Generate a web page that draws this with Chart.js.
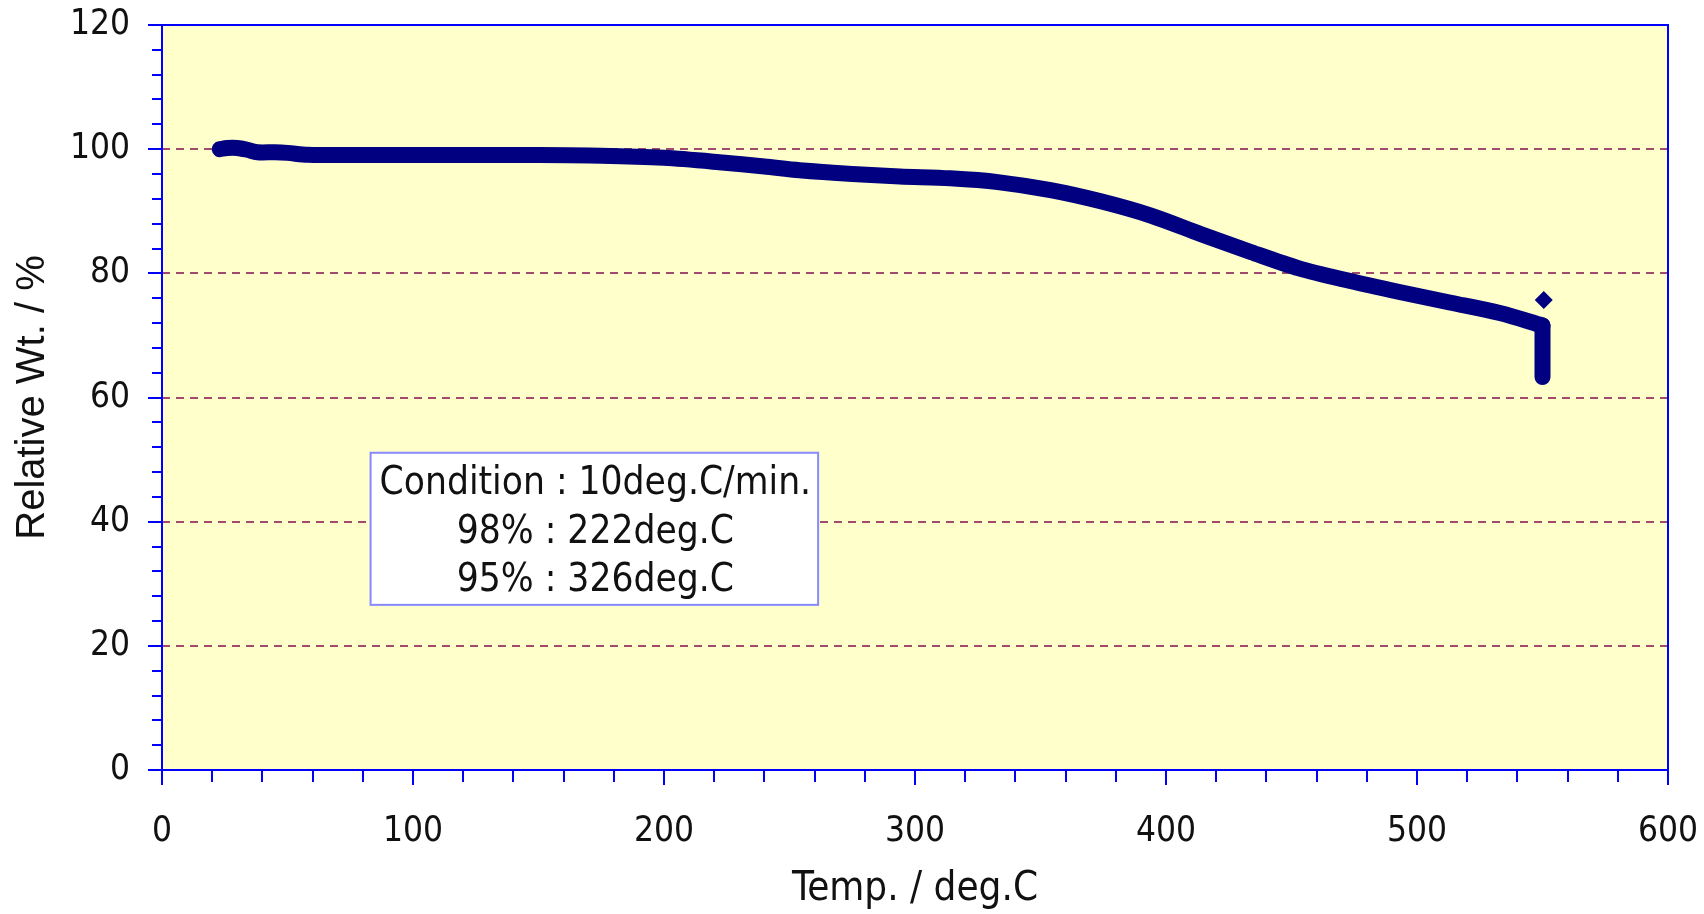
<!DOCTYPE html>
<html>
<head>
<meta charset="utf-8">
<script src="https://cdn.jsdelivr.net/npm/chart.js@4.4.0/dist/chart.umd.min.js"></script>
<style>
  html, body { margin: 0; padding: 0; background: #ffffff; }
  #wrap { width: 1704px; height: 914px; position: relative; }
  canvas { display: block; }
</style>
</head>
<body>
<div id="wrap"><canvas id="c" width="1704" height="914"></canvas></div>
<script>
// ---- data ----
const temps   = [23, 26, 30, 34, 38, 45, 50, 58, 80, 100, 120, 150, 175, 200, 222, 240, 254, 275, 294, 314, 333, 354, 374, 394, 414, 434, 453, 473, 493, 513, 533, 550, 550];
const weights = [100.0, 100.2, 100.2, 99.9, 99.5, 99.5, 99.4, 99.1, 99.05, 99.05, 99.05, 99.05, 98.95, 98.6, 97.9, 97.2, 96.6, 96.0, 95.6, 95.3, 94.7, 93.4, 91.6, 89.3, 86.3, 83.4, 80.8, 78.8, 77.0, 75.3, 73.6, 71.6, 63.3];
const outlierTemp   = [550.5];
const outlierWeight = [75.7];
const xTicks = [0, 100, 200, 300, 400, 500, 600];
const yTicks = [0, 20, 40, 60, 80, 100, 120];
const noteLines = ["Condition : 10deg.C/min.", "98% : 222deg.C", "95% : 326deg.C"];
const xTitle = "Temp. / deg.C";
const yTitle = "Relative Wt. / %";

const FONT = '"DejaVu Sans Condensed", "DejaVu Sans", sans-serif';
const NAVY = '#000080';
const BLUE = '#0000ff';

const allPts = temps.map((t, i) => ({ x: t, y: weights[i] }));
const curvePts = allPts.slice(0, -1);   // heating ramp
const dropPts = allPts.slice(-2);       // isothermal drop at the end
const outPts = outlierTemp.map((t, i) => ({ x: t, y: outlierWeight[i] }));

const framePlugin = {
  id: 'frame',
  beforeDraw(chart) {
    const { ctx, chartArea: a } = chart;
    ctx.save();
    ctx.fillStyle = '#ffffcc';
    ctx.fillRect(a.left, a.top, a.right - a.left, a.bottom - a.top);
    ctx.restore();
  },
  afterDatasetsDraw(chart) {
    const { ctx, chartArea: a, scales } = chart;
    const xs = scales.x, ys = scales.y;
    ctx.save();
    ctx.strokeStyle = BLUE;
    ctx.lineWidth = 2;
    ctx.strokeRect(a.left, a.top, a.right - a.left, a.bottom - a.top);
    ctx.beginPath();
    for (let v = ys.min; v <= ys.max + 1e-9; v += 4) {
      const y = Math.round(ys.getPixelForValue(v));
      const major = Math.abs(v % 20) < 1e-9;
      ctx.moveTo(a.left - (major ? 14 : 10), y);
      ctx.lineTo(a.left, y);
    }
    for (let v = xs.min; v <= xs.max + 1e-9; v += 20) {
      const x = Math.round(xs.getPixelForValue(v));
      const major = Math.abs(v % 100) < 1e-9;
      ctx.moveTo(x, a.bottom);
      ctx.lineTo(x, a.bottom + (major ? 15 : 12));
    }
    ctx.stroke();

    // note box (positioned relative to the axes)
    const bx1 = xs.getPixelForValue(83.1), bx2 = xs.getPixelForValue(261.4);
    const by1 = ys.getPixelForValue(51.1), by2 = ys.getPixelForValue(26.6);
    ctx.fillStyle = '#ffffff';
    ctx.fillRect(bx1, by1, bx2 - bx1, by2 - by1);
    ctx.strokeStyle = '#8888ff';
    ctx.lineWidth = 2;
    ctx.strokeRect(bx1, by1, bx2 - bx1, by2 - by1);
    ctx.fillStyle = '#111111';
    ctx.font = '38.5px ' + FONT;
    ctx.textAlign = 'center';
    ctx.textBaseline = 'middle';
    const cx = (bx1 + bx2) / 2 + 1;
    const cy = (by1 + by2) / 2 + 4;
    noteLines.forEach((s, i) => {
      ctx.fillText(s, cx, cy + (i - 1) * 48.5);
    });
    ctx.restore();
  }
};

const lineStyle = {
  showLine: true,
  borderColor: NAVY,
  backgroundColor: NAVY,
  borderWidth: 16,
  borderJoinStyle: 'round',
  borderCapStyle: 'round',
  pointRadius: 0
};

new Chart(document.getElementById('c'), {
  type: 'scatter',
  data: {
    datasets: [
      Object.assign({ data: curvePts, tension: 0.3 }, lineStyle),
      Object.assign({ data: dropPts, tension: 0 }, lineStyle),
      {
        data: outPts,
        showLine: false,
        pointStyle: 'rectRot',
        pointRadius: 9,
        backgroundColor: NAVY,
        borderColor: NAVY,
        borderWidth: 0
      }
    ]
  },
  options: {
    responsive: false,
    animation: false,
    devicePixelRatio: 1,
    layout: { padding: { top: 25, right: 36, bottom: 0, left: 0 } },
    plugins: { legend: { display: false }, tooltip: { enabled: false } },
    scales: {
      x: {
        type: 'linear',
        min: 0, max: 600,
        afterBuildTicks(scale) { scale.ticks = xTicks.map(v => ({ value: v })); },
        afterFit(scale) { scale.height = 144; scale.paddingLeft = 0; scale.paddingRight = 0; },
        grid: { display: false, drawTicks: false },
        border: { display: false },
        ticks: {
          padding: 41,
          color: '#111111',
          font: { family: FONT, size: 35 },
          maxRotation: 0
        },
        title: {
          display: true,
          text: xTitle,
          color: '#111111',
          font: { family: FONT, size: 40 },
          padding: { top: 0, bottom: 0 }
        }
      },
      y: {
        type: 'linear',
        min: 0, max: 120,
        afterBuildTicks(scale) { scale.ticks = yTicks.map(v => ({ value: v })); },
        afterFit(scale) { scale.width = 162; scale.paddingTop = 0; scale.paddingBottom = 0; },
        grid: {
          drawTicks: false,
          lineWidth: 2,
          color: (c) => (c.tick && (c.tick.value === 0 || c.tick.value === 120)) ? 'rgba(0,0,0,0)' : '#a04a6e'
        },
        border: { display: false, dash: [8, 6] },
        ticks: {
          padding: 32,
          color: '#111111',
          font: { family: FONT, size: 35 }
        },
        title: {
          display: true,
          text: yTitle,
          color: '#111111',
          font: { family: '"Liberation Sans", Arial, sans-serif', size: 40 },
          padding: { top: 9, bottom: 0 }
        }
      }
    }
  },
  plugins: [framePlugin]
});
</script>
</body>
</html>
